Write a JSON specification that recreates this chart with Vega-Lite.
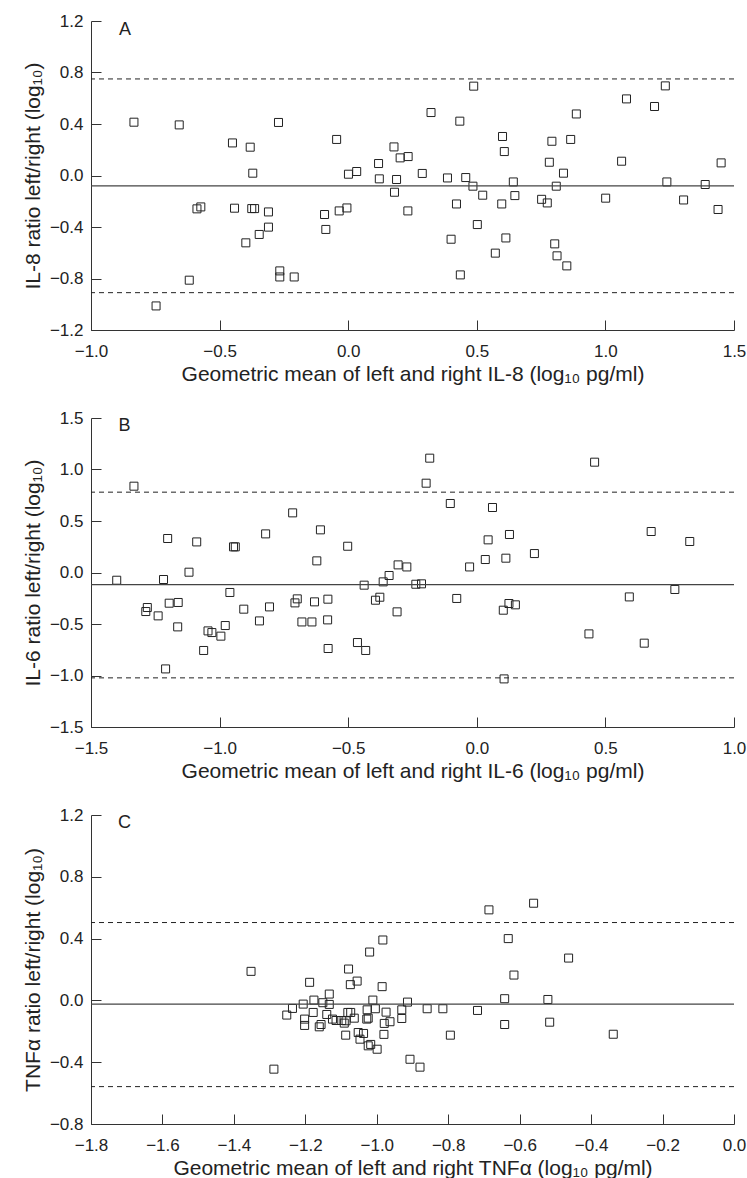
{
  "$schema": "https://vega.github.io/schema/vega-lite/v6.json",
  "background": "white",
  "padding": {"left": 22, "top": 12, "right": 5, "bottom": 0},
  "bounds": "flush",
  "spacing": 88,
  "config": {
    "view": {"stroke": null},
    "font": "Liberation Sans",
    "axis": {
      "grid": false,
      "domainColor": "#333",
      "tickColor": "#333",
      "labelColor": "#222",
      "titleColor": "#222",
      "labelFontSize": 17,
      "titleFontSize": 21,
      "titleFontWeight": "normal",
      "tickSize": -10,
      "labelFlush": false,
      "labelOverlap": false,
      "domainWidth": 1,
      "tickWidth": 1
    },
    "axisX": {"labelPadding": 23, "titlePadding": 4},
    "axisY": {"labelPadding": 18, "titlePadding": 6}
  },
  "datasets": {
    "a": [
      {"x": -0.833, "y": 0.414}, {"x": -0.657, "y": 0.393}, {"x": -0.45, "y": 0.253}, {"x": -0.381, "y": 0.22},
      {"x": -0.271, "y": 0.412}, {"x": -0.371, "y": 0.018}, {"x": -0.045, "y": 0.28}, {"x": 0.001, "y": 0.01},
      {"x": 0.033, "y": 0.031}, {"x": 0.118, "y": 0.093}, {"x": 0.121, "y": -0.026}, {"x": 0.178, "y": 0.222},
      {"x": 0.202, "y": 0.137}, {"x": 0.233, "y": 0.147}, {"x": 0.188, "y": -0.031}, {"x": 0.18, "y": -0.13},
      {"x": 0.232, "y": -0.275}, {"x": 0.288, "y": 0.016}, {"x": -0.588, "y": -0.259}, {"x": -0.573, "y": -0.244},
      {"x": -0.442, "y": -0.254}, {"x": -0.375, "y": -0.257}, {"x": -0.364, "y": -0.257}, {"x": -0.31, "y": -0.283},
      {"x": -0.31, "y": -0.401}, {"x": -0.346, "y": -0.458}, {"x": -0.398, "y": -0.523}, {"x": -0.618, "y": -0.813},
      {"x": -0.747, "y": -1.013}, {"x": -0.266, "y": -0.741}, {"x": -0.266, "y": -0.788}, {"x": -0.21, "y": -0.788},
      {"x": -0.092, "y": -0.303}, {"x": -0.035, "y": -0.275}, {"x": -0.005, "y": -0.252}, {"x": -0.087, "y": -0.419},
      {"x": 0.488, "y": 0.694}, {"x": 0.322, "y": 0.489}, {"x": 0.434, "y": 0.422}, {"x": 0.6, "y": 0.303},
      {"x": 0.607, "y": 0.186}, {"x": 0.782, "y": 0.103}, {"x": 0.792, "y": 0.266}, {"x": 0.865, "y": 0.28},
      {"x": 0.887, "y": 0.478}, {"x": 0.837, "y": 0.018}, {"x": 0.809, "y": -0.083}, {"x": 1.082, "y": 0.595},
      {"x": 1.191, "y": 0.536}, {"x": 1.233, "y": 0.696}, {"x": 1.063, "y": 0.111}, {"x": 1.239, "y": -0.05},
      {"x": 1.388, "y": -0.07}, {"x": 1.45, "y": 0.098}, {"x": 1.438, "y": -0.264}, {"x": 1.304, "y": -0.19},
      {"x": 1.001, "y": -0.176}, {"x": 0.386, "y": -0.019}, {"x": 0.457, "y": -0.016}, {"x": 0.485, "y": -0.083},
      {"x": 0.523, "y": -0.153}, {"x": 0.421, "y": -0.221}, {"x": 0.502, "y": -0.381}, {"x": 0.4, "y": -0.495},
      {"x": 0.436, "y": -0.772}, {"x": 0.642, "y": -0.05}, {"x": 0.648, "y": -0.156}, {"x": 0.597, "y": -0.221},
      {"x": 0.613, "y": -0.485}, {"x": 0.572, "y": -0.603}, {"x": 0.752, "y": -0.185}, {"x": 0.774, "y": -0.213},
      {"x": 0.803, "y": -0.531}, {"x": 0.812, "y": -0.624}, {"x": 0.85, "y": -0.702}
    ],
    "b": [
      {"x": -1.333, "y": 0.838}, {"x": -1.4, "y": -0.075}, {"x": -1.218, "y": -0.068}, {"x": -1.202, "y": 0.33},
      {"x": -1.089, "y": 0.297}, {"x": -1.119, "y": 0.003}, {"x": -1.281, "y": -0.34}, {"x": -1.287, "y": -0.379},
      {"x": -1.239, "y": -0.421}, {"x": -1.196, "y": -0.298}, {"x": -1.161, "y": -0.291}, {"x": -1.163, "y": -0.528},
      {"x": -1.21, "y": -0.936}, {"x": -1.062, "y": -0.757}, {"x": -1.045, "y": -0.567}, {"x": -1.03, "y": -0.583},
      {"x": -0.995, "y": -0.618}, {"x": -0.978, "y": -0.515}, {"x": -0.96, "y": -0.194}, {"x": -0.946, "y": 0.249},
      {"x": -0.939, "y": 0.249}, {"x": -0.906, "y": -0.356}, {"x": -0.845, "y": -0.47}, {"x": -0.821, "y": 0.375},
      {"x": -0.806, "y": -0.334}, {"x": -0.716, "y": 0.579}, {"x": -0.707, "y": -0.295}, {"x": -0.698, "y": -0.256},
      {"x": -0.68, "y": -0.48}, {"x": -0.641, "y": -0.48}, {"x": -0.631, "y": -0.285}, {"x": -0.622, "y": 0.113},
      {"x": -0.608, "y": 0.414}, {"x": -0.579, "y": -0.259}, {"x": -0.58, "y": -0.46}, {"x": -0.578, "y": -0.738},
      {"x": -0.502, "y": 0.255}, {"x": -0.464, "y": -0.68}, {"x": -0.432, "y": -0.757}, {"x": -0.438, "y": -0.123},
      {"x": -0.394, "y": -0.269}, {"x": -0.377, "y": -0.24}, {"x": -0.364, "y": -0.091}, {"x": -0.341, "y": -0.029},
      {"x": -0.31, "y": -0.382}, {"x": -0.306, "y": 0.074}, {"x": -0.272, "y": 0.054}, {"x": -0.237, "y": -0.114},
      {"x": -0.215, "y": -0.11}, {"x": -0.183, "y": 1.11}, {"x": -0.197, "y": 0.867}, {"x": -0.103, "y": 0.67},
      {"x": 0.061, "y": 0.631}, {"x": 0.044, "y": 0.317}, {"x": 0.127, "y": 0.369}, {"x": 0.033, "y": 0.126},
      {"x": 0.113, "y": 0.139}, {"x": 0.224, "y": 0.184}, {"x": -0.028, "y": 0.054}, {"x": -0.078, "y": -0.252},
      {"x": 0.103, "y": -0.366}, {"x": 0.125, "y": -0.301}, {"x": 0.15, "y": -0.314}, {"x": 0.106, "y": -1.033},
      {"x": 0.458, "y": 1.071}, {"x": 0.436, "y": -0.596}, {"x": 0.593, "y": -0.237}, {"x": 0.651, "y": -0.686},
      {"x": 0.678, "y": 0.398}, {"x": 0.77, "y": -0.165}, {"x": 0.828, "y": 0.301}
    ],
    "c": [
      {"x": -1.352, "y": 0.188}, {"x": -1.288, "y": -0.445}, {"x": -1.252, "y": -0.095}, {"x": -1.236, "y": -0.052},
      {"x": -1.206, "y": -0.024}, {"x": -1.202, "y": -0.121}, {"x": -1.202, "y": -0.162}, {"x": -1.188, "y": 0.117},
      {"x": -1.176, "y": 0.002}, {"x": -1.178, "y": -0.078}, {"x": -1.161, "y": -0.171}, {"x": -1.156, "y": -0.156},
      {"x": -1.151, "y": -0.015}, {"x": -1.14, "y": -0.091}, {"x": -1.133, "y": 0.041}, {"x": -1.133, "y": -0.026},
      {"x": -1.124, "y": -0.121}, {"x": -1.114, "y": -0.13}, {"x": -1.098, "y": -0.13}, {"x": -1.091, "y": -0.147},
      {"x": -1.086, "y": -0.132}, {"x": -1.087, "y": -0.225}, {"x": -1.079, "y": 0.203}, {"x": -1.074, "y": 0.102},
      {"x": -1.081, "y": -0.078}, {"x": -1.073, "y": -0.078}, {"x": -1.055, "y": 0.125}, {"x": -1.063, "y": -0.115},
      {"x": -1.052, "y": -0.208}, {"x": -1.037, "y": -0.214}, {"x": -1.047, "y": -0.251}, {"x": -1.027, "y": -0.061},
      {"x": -1.028, "y": -0.121}, {"x": -1.024, "y": -0.115}, {"x": -1.02, "y": 0.313}, {"x": -1.011, "y": 0.002},
      {"x": -1.004, "y": -0.054}, {"x": -1.024, "y": -0.294}, {"x": -1.017, "y": -0.285}, {"x": -0.999, "y": -0.316},
      {"x": -0.983, "y": 0.391}, {"x": -0.985, "y": 0.089}, {"x": -0.974, "y": -0.076}, {"x": -0.979, "y": -0.149},
      {"x": -0.963, "y": -0.138}, {"x": -0.98, "y": -0.22}, {"x": -0.93, "y": -0.061}, {"x": -0.93, "y": -0.117},
      {"x": -0.914, "y": -0.011}, {"x": -0.907, "y": -0.381}, {"x": -0.879, "y": -0.432}, {"x": -0.859, "y": -0.054},
      {"x": -0.815, "y": -0.054}, {"x": -0.794, "y": -0.225}, {"x": -0.718, "y": -0.065}, {"x": -0.686, "y": 0.586},
      {"x": -0.561, "y": 0.629}, {"x": -0.632, "y": 0.4}, {"x": -0.463, "y": 0.274}, {"x": -0.616, "y": 0.164},
      {"x": -0.642, "y": 0.011}, {"x": -0.642, "y": -0.156}, {"x": -0.521, "y": 0.006}, {"x": -0.516, "y": -0.141},
      {"x": -0.338, "y": -0.219}
    ]
  },
  "vconcat": [
    {
      "width": 643,
      "height": 309,
      "layer": [
        {
          "data": {"name": "a"},
          "mark": {"type": "point", "shape": "square", "filled": false, "size": 64, "color": "#222", "strokeWidth": 1, "opacity": 1},
          "encoding": {
            "x": {"field": "x", "type": "quantitative", "scale": {"domain": [-1, 1.5], "nice": false, "zero": false},
                  "axis": {"values": [-1, -0.5, 0, 0.5, 1, 1.5], "format": ".1f", "title": "Geometric mean of left and right IL-8 (log₁₀ pg/ml)"}},
            "y": {"field": "y", "type": "quantitative", "scale": {"domain": [-1.2, 1.2], "nice": false, "zero": false},
                  "axis": {"values": [-1.2, -0.8, -0.4, 0, 0.4, 0.8, 1.2], "format": ".1f", "title": "IL-8 ratio left/right (log₁₀)"}}
          }
        },
        {"data": {"values": [{"v": -0.08}]}, "mark": {"type": "rule", "color": "#444", "strokeWidth": 1.2}, "encoding": {"y": {"field": "v", "type": "quantitative"}}},
        {"data": {"values": [{"v": 0.75}, {"v": -0.91}]}, "mark": {"type": "rule", "color": "#222", "strokeWidth": 1, "strokeDash": [5, 4]}, "encoding": {"y": {"field": "v", "type": "quantitative"}}},
        {"data": {"values": [{"px": -0.868, "py": 1.128, "t": "A"}]}, "mark": {"type": "text", "fontSize": 18, "align": "center", "baseline": "middle", "color": "#222"},
         "encoding": {"x": {"field": "px", "type": "quantitative"}, "y": {"field": "py", "type": "quantitative"}, "text": {"field": "t"}}}
      ]
    },
    {
      "width": 643,
      "height": 309,
      "layer": [
        {
          "data": {"name": "b"},
          "mark": {"type": "point", "shape": "square", "filled": false, "size": 64, "color": "#222", "strokeWidth": 1, "opacity": 1},
          "encoding": {
            "x": {"field": "x", "type": "quantitative", "scale": {"domain": [-1.5, 1.0], "nice": false, "zero": false},
                  "axis": {"values": [-1.5, -1, -0.5, 0, 0.5, 1], "format": ".1f", "title": "Geometric mean of left and right IL-6 (log₁₀ pg/ml)"}},
            "y": {"field": "y", "type": "quantitative", "scale": {"domain": [-1.5, 1.5], "nice": false, "zero": false},
                  "axis": {"values": [-1.5, -1, -0.5, 0, 0.5, 1, 1.5], "format": ".1f", "title": "IL-6 ratio left/right (log₁₀)"}}
          }
        },
        {"data": {"values": [{"v": -0.117}]}, "mark": {"type": "rule", "color": "#444", "strokeWidth": 1.2}, "encoding": {"y": {"field": "v", "type": "quantitative"}}},
        {"data": {"values": [{"v": 0.78}, {"v": -1.023}]}, "mark": {"type": "rule", "color": "#222", "strokeWidth": 1, "strokeDash": [5, 4]}, "encoding": {"y": {"field": "v", "type": "quantitative"}}},
        {"data": {"values": [{"px": -1.37, "py": 1.42, "t": "B"}]}, "mark": {"type": "text", "fontSize": 18, "align": "center", "baseline": "middle", "color": "#222"},
         "encoding": {"x": {"field": "px", "type": "quantitative"}, "y": {"field": "py", "type": "quantitative"}, "text": {"field": "t"}}}
      ]
    },
    {
      "width": 643,
      "height": 309,
      "layer": [
        {
          "data": {"name": "c"},
          "mark": {"type": "point", "shape": "square", "filled": false, "size": 64, "color": "#222", "strokeWidth": 1, "opacity": 1},
          "encoding": {
            "x": {"field": "x", "type": "quantitative", "scale": {"domain": [-1.8, 0.0], "nice": false, "zero": false},
                  "axis": {"values": [-1.8, -1.6, -1.4, -1.2, -1.0, -0.8, -0.6, -0.4, -0.2, 0], "format": ".1f", "title": "Geometric mean of left and right TNFα (log₁₀ pg/ml)"}},
            "y": {"field": "y", "type": "quantitative", "scale": {"domain": [-0.8, 1.2], "nice": false, "zero": false},
                  "axis": {"values": [-0.8, -0.4, 0, 0.4, 0.8, 1.2], "format": ".1f", "title": "TNFα ratio left/right (log₁₀)"}}
          }
        },
        {"data": {"values": [{"v": -0.024}]}, "mark": {"type": "rule", "color": "#444", "strokeWidth": 1.2}, "encoding": {"y": {"field": "v", "type": "quantitative"}}},
        {"data": {"values": [{"v": 0.504}, {"v": -0.558}]}, "mark": {"type": "rule", "color": "#222", "strokeWidth": 1, "strokeDash": [5, 4]}, "encoding": {"y": {"field": "v", "type": "quantitative"}}},
        {"data": {"values": [{"px": -1.706, "py": 1.145, "t": "C"}]}, "mark": {"type": "text", "fontSize": 18, "align": "center", "baseline": "middle", "color": "#222"},
         "encoding": {"x": {"field": "px", "type": "quantitative"}, "y": {"field": "py", "type": "quantitative"}, "text": {"field": "t"}}}
      ]
    }
  ]
}
